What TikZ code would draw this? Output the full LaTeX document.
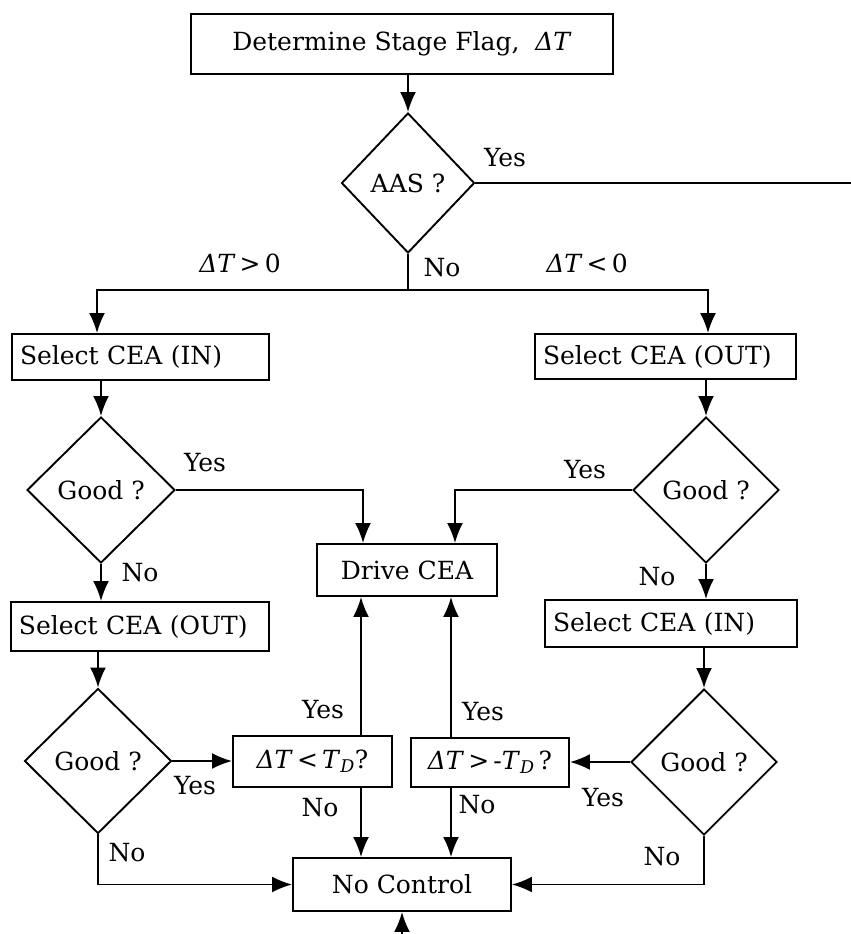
\documentclass[tikz,border=0pt]{standalone}
\usepackage{fontspec}
\setmainfont{DejaVu Serif}
\usepackage{tikz}
\usetikzlibrary{arrows.meta}
\usetikzlibrary{calc}
\usetikzlibrary{shapes.geometric}
\usetikzlibrary{positioning}

\begin{document}
\begin{tikzpicture}[
  x=1pt, y=-1pt,
  every node/.style={font=\fontsize{25}{29}\selectfont},
  > = {Latex[length=20pt,width=16pt]},
  line width=1.9pt,
  box/.style = {draw,rectangle,inner sep=0pt},
  selbox/.style = {box,inner xsep=8pt,align=left},
  query/.style = {draw,diamond,inner sep=0pt,aspect=1},
  tag/.style = {inner sep=0pt}
  ]
	\useasboundingbox (0,0) rectangle (851,934);

	% boxes and questions
	\node[box,minimum width=422,minimum height=60] (top) at (402,44) {Determine Stage Flag,\ \ \textit{ΔT}};
	\node[query,minimum width=133,minimum height=140] (aas) at (408,183) {AAS ?};

	\node[selbox,text width=241,minimum height=46] (selinL) at (140.5,357) {Select CEA (IN)};
	\node[query,minimum width=148,minimum height=146] (goodL1) at (101,490) {Good ?};
	\node[selbox,text width=242,minimum height=49] (seloutL) at (140,626.5) {Select CEA (OUT)};
	\node[query,minimum width=147,minimum height=145] (goodL2) at (98,761) {Good ?};
	\node[box,minimum width=159,minimum height=51] (ltTD) at (312.5,761.5) {\textit{ΔT}\,<\,\textit{T}\textsubscript{\textit{D}}?};

	\node[selbox,text width=245,minimum height=45] (seloutR) at (665.5,356.5) {Select CEA (OUT)};
	\node[query,minimum width=146,minimum height=146] (goodR1) at (706,490) {Good ?};
	\node[selbox,text width=236,minimum height=47] (selinR) at (671,623.5) {Select CEA (IN)};
	\node[query,minimum width=146,minimum height=146] (goodR2) at (704,762) {Good ?};
	\node[box,minimum width=158,minimum height=49] (gtTD) at (490,762.5) {\textit{ΔT}\,>\,-\textit{T}\textsubscript{\textit{D}}\,?};

	\node[box,minimum width=180,minimum height=52] (drive) at (407,570) {Drive CEA};
	\node[box,minimum width=218,minimum height=53] (noctrl) at (402,884.5) {No Control};

	\coordinate (yesout) at (851,183);
	\coordinate (split) at (408,290);
	\coordinate (jl) at (97,290);
	\coordinate (jr) at (708,290);
	\coordinate (entry) at (402,934);

	% connectors
	\draw[->] (aas.north |- top.south) -- (aas.north);
	\draw (aas.east) -- (yesout);
	\draw (aas.south) -- (split);
	\draw[->] (split) -- (jl) -- (jl |- selinL.north);
	\draw[->] (split) -- (jr) -- (jr |- seloutR.north);

	\draw[->] (goodL1.north |- selinL.south) -- (goodL1.north);
	\draw[->] (goodL1.east) -| ([xshift=-44pt]drive.north);
	\draw[->] (goodL1.south) -- (goodL1.south |- seloutL.north);
	\draw[->] (goodL2.north |- seloutL.south) -- (goodL2.north);
	\draw[->] (goodL2.east) -- (goodL2.east -| ltTD.west);
	\draw[->] ([xshift=-46pt]drive.south |- ltTD.north) -- ([xshift=-46pt]drive.south);
	\draw[->] ([xshift=-46pt]drive.south |- ltTD.south) -- ([xshift=-46pt]drive.south |- noctrl.north);
	\draw[->] (goodL2.south) |- (noctrl.west);

	\draw[->] (goodR1.north |- seloutR.south) -- (goodR1.north);
	\draw[->] (goodR1.west) -| ([xshift=48pt]drive.north);
	\draw[->] (goodR1.south) -- (goodR1.south |- selinR.north);
	\draw[->] (goodR2.north |- selinR.south) -- (goodR2.north);
	\draw[->] (goodR2.west) -- (goodR2.west -| gtTD.east);
	\draw[->] ([xshift=44pt]drive.south |- gtTD.north) -- ([xshift=44pt]drive.south);
	\draw[->] ([xshift=44pt]drive.south |- gtTD.south) -- ([xshift=44pt]drive.south |- noctrl.north);
	\draw[->] (goodR2.south) |- (noctrl.east);

	\draw[->] (entry) -- (noctrl.south);

	% branch labels
	\node[tag] (yAAS) at (505,158) {Yes};
	\node[tag] (nAAS) at (442,268) {No};
	\node[tag] (pos) at (240,263) {\textit{ΔT}\,>\,0};
	\node[tag] (neg) at (587,263) {\textit{ΔT}\,<\,0};
	\node[tag] (yL1) at (205,463) {Yes};
	\node[tag] (nL1) at (140,573) {No};
	\node[tag] (yR1) at (585,470) {Yes};
	\node[tag] (nR1) at (657,577) {No};
	\node[tag] (yL2) at (195,786) {Yes};
	\node[tag] (nL2) at (127,853) {No};
	\node[tag] (yLT) at (323,710) {Yes};
	\node[tag] (nLT) at (320,808) {No};
	\node[tag] (yGT) at (483,712) {Yes};
	\node[tag] (nGT) at (477,805) {No};
	\node[tag] (yR2) at (603,798) {Yes};
	\node[tag] (nR2) at (662,857) {No};

\end{tikzpicture}
\end{document}
